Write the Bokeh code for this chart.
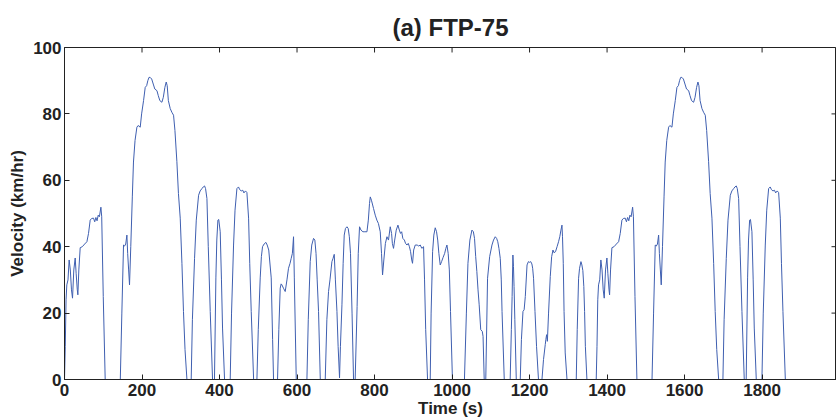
from bokeh.plotting import figure
from bokeh.models import Range1d, FixedTicker
from bokeh.embed import file_html
from bokeh.resources import INLINE

# ---- data (time in s, velocity in km/h) ----
# Phase 1: cold start (0 - 505 s)
t_phase1 = [0, 2, 4, 6, 9, 12, 15, 18, 20.7, 24, 27.6, 30, 33, 34.5, 37, 40.5, 46, 52, 57.8, 62,
            66.3, 70, 74.9, 78, 81, 84, 87, 90, 93.9, 96, 100, 105,
            144, 148, 152.3, 155, 158, 161, 163, 165.5, 167.8, 171, 175, 178, 182, 186.8, 190, 195.4,
            199, 204, 208.3, 212, 215, 218, 221, 225, 229, 233, 238.5, 242, 246, 251.3, 255, 259,
            262.5, 265, 268, 272.8, 277, 281.4, 285, 290, 294, 298.6, 303, 307, 311, 315.9,
            326.9, 330, 335.6, 340, 346, 350, 354.6, 358, 361.4, 364, 367.5, 371, 376, 382,
            387, 390.6, 393, 395.8, 398, 401.8, 405, 407.8, 413,
            427.6, 431, 436.2, 440, 444.9, 449, 452, 456, 460, 463, 467, 470.7, 475, 478, 481.8, 488,
            496.5, 500]
v_phase1 = [0, 10, 24, 28.5, 30, 36, 33, 27, 24.5, 33, 36.6, 32, 27, 25.5, 33, 39.7, 40, 40.8, 41.5, 44,
            48, 48.5, 48.6, 47.5, 48.8, 47.8, 49.5, 49, 51.9, 49, 25, 0,
            0, 20, 40.5, 40.2, 40.8, 43.5, 38, 33, 28.5, 40, 55, 65.5, 72, 76, 76.5, 76,
            80, 84, 88, 88.5, 90, 91, 91, 90.5, 89, 87.5, 87, 85.5, 84, 83.5, 85, 88,
            89.6, 88.5, 84, 81.6, 80.5, 79.6, 75, 65.6, 56, 48.6, 35, 20.5, 9, 0,
            0, 18, 36.5, 48, 55.5, 56.8, 57.5, 58, 58.3, 57.5, 54.5, 40, 20.5, 0,
            0, 30.6, 42, 48, 48.2, 44.5, 30, 15.5, 0,
            0, 20, 40.5, 51, 57.5, 58, 57.2, 56.8, 57.0, 56.2, 56.8, 56.3, 48.6, 35, 20.5, 0,
            0, 15]

# Phase 2: stabilized (505 - 1372 s)
t_phase2 = [505, 508, 511, 515, 519.7, 523, 527, 533.4, 537, 539.4,
            549.7, 553, 556.6, 559, 561, 565, 569.5, 574, 578, 582, 585, 588, 591, 593, 598,
            625.5, 629, 634, 638, 642.6, 646, 649, 652, 655.5, 660,
            672.8, 677, 681.3, 685, 690, 693, 696, 699, 703, 706, 709.7, 712, 715.9, 719, 721.8, 725,
            728.8, 732, 735, 738, 742, 745.8,
            750, 755, 758, 761.3, 765, 770, 775, 780.4, 784, 787, 789, 792, 797.4, 801.8, 806, 810,
            814.7, 818, 820.7, 824, 828, 832, 836, 840.5, 844, 846, 849, 852, 856, 860.4, 864, 867,
            870, 873, 877, 880, 883.6, 887, 890, 893, 896, 898, 901, 905, 910, 914, 918, 922, 926.5,
            929, 932, 936.8,
            943.7, 946, 949.8, 953, 956.6, 960, 963, 966, 969.5, 973, 977, 981, 984, 986.8, 990, 993,
            996, 1001,
            1032, 1037, 1041, 1046, 1051.3, 1055, 1058, 1061, 1064, 1067, 1070, 1074, 1078, 1080, 1083,
            1087, 1091.6, 1097, 1103, 1107, 1111.5, 1115, 1118, 1121, 1124.4, 1127, 1129, 1134.7,
            1150, 1153, 1155, 1157, 1158.5, 1160, 1162, 1165.7,
            1176, 1179, 1183, 1186, 1189, 1193.5, 1197, 1200, 1203, 1206, 1208, 1210.3, 1214, 1218, 1223,
            1232, 1236, 1240.5, 1242, 1244, 1246, 1249, 1253.4, 1257, 1260.4, 1263, 1267, 1271, 1274.8,
            1278, 1281, 1283.6, 1285, 1287, 1289, 1292, 1296.6,
            1320.5, 1323, 1326.5, 1329, 1332.6, 1335, 1337.5, 1340, 1342, 1344, 1348]
v_phase2 = [30.6, 37, 40, 40.8, 41.3, 40.5, 39, 30.6, 12, 0,
            0, 15, 27.5, 28.8, 28.5, 27.5, 26.5, 30, 33.5, 35, 36.5, 38, 43, 30.6, 0,
            0, 18, 35.5, 40.5, 42.5, 42, 38, 30, 20.5, 0,
            0, 18, 26.5, 30, 35.5, 36.5, 37.7, 30, 20.5, 10, 0.5, 10, 22.5, 35, 43.5, 45.5,
            46, 45.5, 43, 38, 20, 0,
            0, 22, 38, 46, 45, 44.5, 44.5, 44.5, 48, 53, 55, 54, 51.5, 49.5, 48, 47,
            44.5, 38, 31.5, 36, 41, 43, 42, 46, 44, 41, 39.5, 42, 45, 46.5, 45, 44,
            44.5, 42.5, 42, 41, 40.5, 41, 40, 38.5, 36, 35, 39, 40.5, 40.5, 40.2, 40.5, 39.5, 40,
            30, 15, 0,
            0, 20, 38.5, 43.5, 45.7, 44.5, 42, 38, 34.5, 35.5, 36.8, 38, 39.5, 40.5, 38, 33,
            20.5, 0,
            0, 20, 35, 42, 45, 44.5, 42.5, 37, 32.5, 27, 22.5, 15, 14.5, 13, 0,
            0, 30.5, 37, 40.5, 42, 43, 42.5, 41.5, 39.5, 36.5, 30, 20.5, 0,
            0, 15, 25, 37.5, 34, 28, 18, 0,
            0, 12, 20.5, 21, 25, 34.5, 35.5, 35.3, 35.5, 34.8, 33.5, 30.5, 20.5, 10, 0,
            0, 6, 10.5, 12, 13.5, 11.5, 20, 31, 37, 39, 38.2, 38.5, 40, 41.5,
            43, 45, 46.5, 43, 35, 20.5, 8, 0,
            0, 15, 30.5, 33.5, 35.5, 34.5, 32.8, 28, 20.5, 10, 0]

# Phase 3: hot start (1372 - 1874 s)
t_phase3 = [1372, 1374, 1376, 1378, 1381, 1384, 1387, 1390, 1392.7, 1396, 1399.6, 1402, 1405, 1406.5,
            1409, 1412.5, 1418, 1424, 1429.8, 1434, 1438.3, 1442, 1446.9, 1450, 1453, 1456, 1459,
            1462, 1465.9, 1468, 1472, 1477,
            1516, 1520, 1524.3, 1527, 1530, 1533, 1535, 1537.5, 1539.8, 1543, 1547, 1550, 1554, 1558.8,
            1562, 1567.4, 1571, 1576, 1580.3, 1584, 1587, 1590, 1593, 1597, 1601, 1605, 1610.5, 1614,
            1618, 1623.3, 1627, 1631, 1634.5, 1637, 1640, 1644.8, 1649, 1653.4, 1657, 1662, 1666,
            1670.6, 1675, 1679, 1683, 1687.9,
            1698.9, 1702, 1707.6, 1712, 1718, 1722, 1726.6, 1730, 1733.4, 1736, 1739.5, 1743, 1748, 1754,
            1759, 1762.6, 1765, 1767.8, 1770, 1773.8, 1777, 1779.8, 1785,
            1799.6, 1803, 1808.2, 1812, 1816.9, 1821, 1824, 1828, 1832, 1835, 1839, 1842.7, 1847, 1850,
            1853.8, 1860, 1874]
v_phase3 = [0, 10, 24, 28.5, 30, 36, 33, 27, 24.5, 33, 36.6, 32, 27, 25.5,
            33, 39.7, 40, 40.8, 41.5, 44, 48, 48.5, 48.6, 47.5, 48.8, 47.8, 49.5,
            49, 51.9, 49, 25, 0,
            0, 20, 40.5, 40.2, 40.8, 43.5, 38, 33, 28.5, 40, 55, 65.5, 72, 76,
            76.5, 76, 80, 84, 88, 88.5, 90, 91, 91, 90.5, 89, 87.5, 87, 85.5,
            84, 83.5, 85, 88, 89.6, 88.5, 84, 81.6, 80.5, 79.6, 75, 65.6, 56,
            48.6, 35, 20.5, 9, 0,
            0, 18, 36.5, 48, 55.5, 56.8, 57.5, 58, 58.3, 57.5, 54.5, 40, 20.5, 0,
            0, 30.6, 42, 48, 48.2, 44.5, 30, 15.5, 0,
            0, 20, 40.5, 51, 57.5, 58, 57.2, 56.8, 57.0, 56.2, 56.8, 56.3, 48.6, 35,
            20.5, 0, 0]

x_ticks = [0, 200, 400, 600, 800, 1000, 1200, 1400, 1600, 1800]
y_ticks = [0, 20, 40, 60, 80, 100]
title_text = "(a) FTP-75"

time_s = t_phase1 + t_phase2 + t_phase3
velocity = v_phase1 + v_phase2 + v_phase3

FONT = "Liberation Sans"
INK = "#222222"
X_END = 1992
Y_END = 100
PX_PER_Y = 333.0 / Y_END
PX_PER_X = 772.0 / X_END

p = figure(width=836, height=420, x_range=Range1d(0, X_END), y_range=Range1d(0, Y_END),
           output_backend="svg", toolbar_location=None,
           min_border_left=64, min_border_right=0, min_border_top=47, min_border_bottom=40,
           title=title_text)
p.title.align = "center"
p.title.vertical_align = "top"
p.title.text_font = FONT
p.title.text_font_size = "24px"
p.title.text_font_style = "bold"
p.title.text_color = INK

p.line(time_s, velocity, line_color="#3f5fb0", line_width=1)

p.grid.visible = False
p.outline_line_color = INK
p.outline_line_width = 1
p.background_fill_color = "white"
p.border_fill_color = "white"

for ax, ticks in ((p.xaxis[0], x_ticks), (p.yaxis[0], y_ticks)):
    ax.ticker = FixedTicker(ticks=ticks)
    ax.major_tick_in = 5
    ax.major_tick_out = 0
    ax.minor_tick_line_color = None
    ax.axis_line_color = INK
    ax.major_tick_line_color = INK
    ax.major_label_text_font = FONT
    ax.major_label_text_font_size = "17px"
    ax.major_label_text_font_style = "bold"
    ax.major_label_text_color = INK
    ax.axis_label_text_font = FONT
    ax.axis_label_text_font_size = "17px"
    ax.axis_label_text_font_style = "bold"
    ax.axis_label_text_color = INK

xa = p.xaxis[0]
xa.axis_label = "Time (s)"
xa.major_label_standoff = 4
xa.axis_label_standoff = 0

ya = p.yaxis[0]
ya.axis_label = "Velocity (km/hr)"
ya.major_label_standoff = 3
ya.axis_label_standoff = 3

# inward tick marks on the top and right sides of the box (MATLAB "box on")
tick_len_y = 5 / PX_PER_Y
tick_len_x = 5 / PX_PER_X
p.segment(x0=x_ticks, y0=[Y_END] * len(x_ticks), x1=x_ticks, y1=[Y_END - tick_len_y] * len(x_ticks),
          line_color=INK, line_width=1)
p.segment(x0=[X_END] * len(y_ticks), y0=y_ticks, x1=[X_END - tick_len_x] * len(y_ticks), y1=y_ticks,
          line_color=INK, line_width=1)

open("out.html", "w").write(file_html(p, INLINE))
